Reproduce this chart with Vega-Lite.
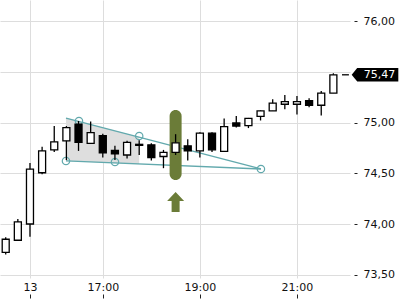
{
  "$schema": "https://vega.github.io/schema/vega-lite/v6.json",
  "width": 350,
  "height": 278,
  "autosize": {"type": "none"},
  "padding": {"left": 0, "top": 0, "right": 50, "bottom": 22},
  "background": "white",
  "config": {
    "view": {"stroke": null},
    "font": "DejaVu Sans",
    "axis": {"labelFont": "DejaVu Sans", "labelFontSize": 11, "labelColor": "#111111", "gridColor": "#dddddd", "gridWidth": 1, "domain": false, "tickColor": "#222222", "title": null}
  },
  "datasets": {
    "candles": [
      {"i": 0, "open": 73.72, "high": 73.87, "low": 73.70, "close": 73.85},
      {"i": 1, "open": 73.84, "high": 74.05, "low": 73.84, "close": 74.02},
      {"i": 2, "open": 74.00, "high": 74.60, "low": 73.875, "close": 74.54},
      {"i": 3, "open": 74.505, "high": 74.76, "low": 74.49, "close": 74.72},
      {"i": 4, "open": 74.73, "high": 74.965, "low": 74.71, "close": 74.81},
      {"i": 5, "open": 74.82, "high": 74.965, "low": 74.63, "close": 74.95},
      {"i": 6, "open": 74.985, "high": 75.015, "low": 74.72, "close": 74.805},
      {"i": 7, "open": 74.795, "high": 75.01, "low": 74.79, "close": 74.90},
      {"i": 8, "open": 74.87, "high": 74.89, "low": 74.655, "close": 74.70},
      {"i": 9, "open": 74.725, "high": 74.77, "low": 74.63, "close": 74.69},
      {"i": 10, "open": 74.68, "high": 74.82, "low": 74.645, "close": 74.805},
      {"i": 11, "open": 74.785, "high": 74.825, "low": 74.68, "close": 74.775},
      {"i": 12, "open": 74.78, "high": 74.795, "low": 74.625, "close": 74.655},
      {"i": 13, "open": 74.665, "high": 74.73, "low": 74.55, "close": 74.705},
      {"i": 14, "open": 74.705, "high": 74.885, "low": 74.68, "close": 74.80},
      {"i": 15, "open": 74.77, "high": 74.835, "low": 74.625, "close": 74.72},
      {"i": 16, "open": 74.72, "high": 74.905, "low": 74.655, "close": 74.895},
      {"i": 17, "open": 74.895, "high": 74.905, "low": 74.71, "close": 74.73},
      {"i": 18, "open": 74.715, "high": 75.04, "low": 74.715, "close": 74.96},
      {"i": 19, "open": 74.995, "high": 75.065, "low": 74.95, "close": 74.965},
      {"i": 20, "open": 74.97, "high": 75.045, "low": 74.945, "close": 75.04},
      {"i": 21, "open": 75.06, "high": 75.12, "low": 75.02, "close": 75.115},
      {"i": 22, "open": 75.115, "high": 75.23, "low": 75.115, "close": 75.19},
      {"i": 23, "open": 75.18, "high": 75.27, "low": 75.13, "close": 75.205},
      {"i": 24, "open": 75.18, "high": 75.26, "low": 75.08, "close": 75.205},
      {"i": 25, "open": 75.215, "high": 75.24, "low": 75.15, "close": 75.17},
      {"i": 26, "open": 75.17, "high": 75.31, "low": 75.07, "close": 75.29},
      {"i": 27, "open": 75.29, "high": 75.485, "low": 75.29, "close": 75.47}
    ]
  },
  "layer": [
    {
      "data": {"values": [{"i": 4.966, "top": 75.044, "bot": 74.621}, {"i": 11.0, "top": 74.856, "bot": 74.591}]},
      "mark": {"type": "area", "color": "#dedede", "opacity": 1},
      "encoding": {
        "x": {"field": "i", "type": "quantitative", "scale": {"domain": [-0.47, 28.37], "nice": false, "zero": false, "padding": 0},
          "axis": {"orient": "bottom", "values": [2, 8, 16, 24], "labelExpr": "datum.value==2?'13':datum.value==8?'17:00':datum.value==16?'19:00':'21:00'", "grid": true, "offset": 20, "tickSize": -4, "labelPadding": -13, "labelAngle": 0, "labelFlush": false, "labelOverlap": false}},
        "y": {"field": "top", "type": "quantitative", "scale": {"domain": [73.468, 76.207], "nice": false, "zero": false, "padding": 0},
          "axis": {"orient": "right", "values": [73.5, 74, 74.5, 75, 75.5, 76], "labelExpr": "datum.value==75.5?'':replace(format(datum.value,'.2f'),'.',',')", "grid": true, "offset": 4, "tickSize": 3, "labelPadding": 6}},
        "y2": {"field": "bot"}
      }
    },
    {
      "data": {"values": [
        {"i": 4.966, "v": 75.044, "g": "u"}, {"i": 21.03, "v": 74.542, "g": "u"},
        {"i": 4.966, "v": 74.621, "g": "l"}, {"i": 21.03, "v": 74.542, "g": "l"}
      ]},
      "mark": {"type": "line", "color": "#62a9ad", "strokeWidth": 1.3},
      "encoding": {
        "x": {"field": "i", "type": "quantitative"},
        "y": {"field": "v", "type": "quantitative"},
        "detail": {"field": "g"}
      }
    },
    {
      "data": {"values": [
        {"i": 4.966, "v": 74.621}, {"i": 6.037, "v": 75.015}, {"i": 9.004, "v": 74.611}, {"i": 11.0, "v": 74.867}, {"i": 21.03, "v": 74.542}
      ]},
      "mark": {"type": "point", "shape": "circle", "filled": false, "size": 55, "color": "#62a9ad", "strokeWidth": 1.2, "opacity": 1},
      "encoding": {
        "x": {"field": "i", "type": "quantitative"},
        "y": {"field": "v", "type": "quantitative"}
      }
    },
    {
      "data": {"values": [{"i": 14, "top": 75.123, "bot": 74.433}]},
      "mark": {"type": "bar", "color": "#6b7c38", "size": 12, "cornerRadius": 6},
      "encoding": {
        "x": {"field": "i", "type": "quantitative"},
        "y": {"field": "top", "type": "quantitative"},
        "y2": {"field": "bot"}
      }
    },
    {
      "data": {"name": "candles"},
      "mark": {"type": "rule", "color": "#000000", "strokeWidth": 1.3},
      "encoding": {
        "x": {"field": "i", "type": "quantitative"},
        "y": {"field": "low", "type": "quantitative"},
        "y2": {"field": "high"}
      }
    },
    {
      "data": {"name": "candles"},
      "mark": {"type": "bar", "size": 7, "stroke": "#000000", "strokeWidth": 1.3},
      "encoding": {
        "x": {"field": "i", "type": "quantitative"},
        "y": {"field": "open", "type": "quantitative"},
        "y2": {"field": "close"},
        "fill": {"condition": {"test": "datum.close >= datum.open", "value": "#ffffff"}, "value": "#000000"}
      }
    },
    {
      "data": {"values": [{"i": 14, "v": 74.217}]},
      "mark": {"type": "point", "shape": "M0,-1L0.85,-0.1L0.4,-0.1L0.4,1L-0.4,1L-0.4,-0.1L-0.85,-0.1Z", "size": 400, "filled": true, "color": "#6b7c38", "strokeWidth": 0, "opacity": 1},
      "encoding": {
        "x": {"field": "i", "type": "quantitative"},
        "y": {"field": "v", "type": "quantitative"}
      }
    },
    {
      "data": {"values": [{"i": 27.71, "i2": 28.28, "v": 75.47}]},
      "mark": {"type": "rule", "color": "#000000", "strokeWidth": 1.3},
      "encoding": {
        "x": {"field": "i", "type": "quantitative"},
        "x2": {"field": "i2"},
        "y": {"field": "v", "type": "quantitative"}
      }
    },
    {
      "data": {"values": [{"i": 30.43, "v": 75.47}]},
      "mark": {"type": "point", "shape": "M-1,0L-0.764,-0.288L1,-0.288L1,0.288L-0.764,0.288Z", "size": 2172, "filled": true, "color": "#000000", "strokeWidth": 0, "opacity": 1},
      "encoding": {
        "x": {"field": "i", "type": "quantitative"},
        "y": {"field": "v", "type": "quantitative"}
      }
    },
    {
      "data": {"values": [{"i": 30.8, "v": 75.47, "label": "75,47"}]},
      "mark": {"type": "text", "color": "#ffffff", "fontSize": 11, "align": "center", "baseline": "middle", "font": "DejaVu Sans"},
      "encoding": {
        "x": {"field": "i", "type": "quantitative"},
        "y": {"field": "v", "type": "quantitative"},
        "text": {"field": "label"}
      }
    }
  ]
}
